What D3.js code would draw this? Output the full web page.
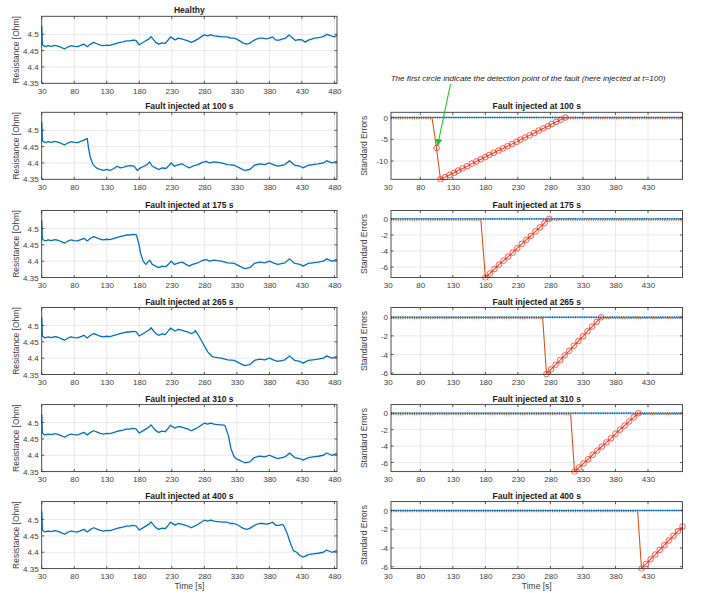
<!DOCTYPE html>
<html>
<head>
<meta charset="utf-8">
<script src="https://cdn.jsdelivr.net/npm/d3@7"></script>
<style>
  body { margin: 0; background: #fff; }
  text { font-family: "Liberation Sans", Arial, sans-serif; }
</style>
</head>
<body>
<script>
// healthy resistance trace [s], [Ohm]
const healthyT = [30, 31, 35, 40, 45, 50, 55, 60, 65, 70, 75, 80, 85, 90, 95, 100, 105, 110, 115, 120,
  125, 130, 135, 140, 145, 150, 155, 160, 165, 170, 175, 180, 185, 190, 195, 198, 205, 210, 215, 220,
  225, 228, 235, 240, 245, 250, 255, 260, 265, 270, 275, 280, 285, 290, 295, 300, 305, 310, 315, 320,
  325, 330, 335, 340, 345, 350, 355, 360, 365, 370, 375, 380, 385, 390, 395, 400, 405, 410, 415, 420,
  425, 430, 435, 440, 445, 450, 455, 460, 465, 468, 475, 480, 484];
const healthyR = [4.525, 4.468, 4.462, 4.465, 4.463, 4.466, 4.464, 4.460, 4.455, 4.461, 4.465, 4.463, 4.462, 4.466, 4.470, 4.462, 4.470, 4.475, 4.471, 4.467,
  4.465, 4.467, 4.466, 4.469, 4.472, 4.475, 4.477, 4.480, 4.480, 4.482, 4.481, 4.468, 4.474, 4.480, 4.486, 4.493, 4.476, 4.470, 4.474, 4.472,
  4.484, 4.492, 4.483, 4.488, 4.486, 4.483, 4.480, 4.475, 4.480, 4.485, 4.492, 4.498, 4.495, 4.498, 4.495, 4.494, 4.493, 4.492, 4.492, 4.488,
  4.488, 4.485, 4.479, 4.473, 4.470, 4.473, 4.480, 4.485, 4.488, 4.488, 4.486, 4.488, 4.492, 4.482, 4.482, 4.485, 4.488, 4.498, 4.490, 4.481,
  4.484, 4.483, 4.476, 4.482, 4.485, 4.488, 4.490, 4.491, 4.495, 4.500, 4.495, 4.492, 4.497];

// resistance trace once the fault is present
const faultedT = [120, 125, 130, 135, 141, 146, 151, 156, 161, 166, 172, 177, 182, 187, 192, 196, 200, 205, 210, 215,
  221, 226, 229, 234, 241, 246, 252, 257, 262, 270, 277, 283, 288, 295, 306, 316, 326, 334, 342, 350,
  357, 365, 373, 380, 386, 393, 404, 411, 419, 427, 432, 440, 447, 455, 463, 468, 476, 484];
const faultedR = [4.380, 4.377, 4.380, 4.377, 4.383, 4.390, 4.385, 4.387, 4.390, 4.392, 4.390, 4.377, 4.385, 4.390, 4.395, 4.403, 4.390, 4.385, 4.380, 4.385,
  4.383, 4.393, 4.400, 4.390, 4.395, 4.397, 4.390, 4.385, 4.390, 4.395, 4.402, 4.405, 4.400, 4.403, 4.400, 4.395, 4.393, 4.385, 4.377, 4.380,
  4.393, 4.397, 4.395, 4.400, 4.395, 4.390, 4.395, 4.407, 4.393, 4.390, 4.385, 4.393, 4.395, 4.397, 4.400, 4.407, 4.400, 4.405];

// fault cases: injection time, drop of the resistance, standard error trace
const faultTimes = [100, 175, 265, 310, 400];
const dropT = [
  [100, 102, 105, 109, 114],
  [176, 179, 182, 186, 190],
  [266, 271, 278, 285, 292],
  [312, 317, 321, 326, 330],
  [402, 407, 412, 417, 422]
];
const dropR = [
  [4.475, 4.445, 4.415, 4.395, 4.385],
  [4.478, 4.455, 4.425, 4.400, 4.390],
  [4.485, 4.470, 4.445, 4.420, 4.405],
  [4.490, 4.460, 4.420, 4.395, 4.388],
  [4.482, 4.460, 4.430, 4.405, 4.400]
];
// last sample at zero before the drop of the standard errors
const seOnset = [98, 173, 268, 311, 414];
const seT = [
  [105, 111, 118, 125, 132, 138, 145, 152, 159, 166, 173, 180, 186, 193, 200, 207, 214, 221, 228, 234, 241, 248, 255, 262, 269, 276, 282, 289, 296, 303],
  [180, 187, 194, 201, 208, 215, 222, 229, 236, 243, 250, 257, 264, 271, 278],
  [274, 281, 288, 295, 302, 309, 316, 323, 330, 337, 344, 351, 358],
  [317, 324, 331, 338, 345, 352, 359, 366, 373, 380, 387, 394, 401, 408, 415],
  [420, 427, 434, 441, 448, 455, 462, 469, 476, 483]
];
const seV = [
  [-7.0, -14.2, -13.7, -13.2, -12.7, -12.2, -11.7, -11.2, -10.6, -10.1, -9.6, -9.1, -8.6, -8.1, -7.6, -7.1, -6.6, -6.1, -5.6, -5.1, -4.6, -4.1, -3.6, -3.0, -2.5, -2.0, -1.5, -1.0, -0.5, 0],
  [-7.3, -6.8, -6.25, -5.7, -5.2, -4.7, -4.2, -3.65, -3.1, -2.6, -2.1, -1.55, -1.05, -0.5, 0],
  [-6.1, -5.6, -5.1, -4.6, -4.1, -3.6, -3.05, -2.55, -2.05, -1.5, -1.0, -0.5, 0],
  [-7.1, -6.6, -6.1, -5.6, -5.05, -4.55, -4.05, -3.55, -3.05, -2.5, -2.0, -1.5, -1.0, -0.5, 0],
  [-6.2, -5.7, -5.2, -4.7, -4.2, -3.7, -3.2, -2.7, -2.2, -1.7]
];
const seDomains = [[-14.2, 1.2], [-7.3, 1.05], [-6.15, 1.05], [-7.1, 1.05], [-6.2, 0.95]];
const seTicks = [[-10, -5, 0], [-6, -4, -2, 0], [-6, -4, -2, 0], [-6, -4, -2, 0], [-6, -4, -2, 0]];
const resTicks = [4.35, 4.4, 4.45, 4.5];
const leftXTicks = d3.range(30, 481, 50);
const rightXTicks = d3.range(30, 431, 50);

const W = 704, H = 593;
const panelTop = [16.3, 112.3, 210.5, 307.5, 404.6, 501.6];
const panelH = 67;
const blue = '#0072BD', orange = '#D95319';

const svg = d3.select('body').append('svg').attr('width', W).attr('height', H);

const leftX = d3.scaleLinear().domain([30, 484]).range([41.7, 337]);
const rightX = d3.scaleLinear().domain([35, 483]).range([391, 682.5]);

function frame(x, y, xTicks, yTicks, title, ylabel, ylabelX, showTime) {
  const g = svg.append('g');
  const [x0, x1] = x.range();
  const [y1, y0] = y.range();
  // grid
  g.selectAll('.gx').data(xTicks.filter(t => x(t) > x0 + 0.5 && x(t) < x1 - 0.5)).enter().append('line')
    .attr('x1', d => x(d)).attr('x2', d => x(d)).attr('y1', y0).attr('y2', y1)
    .attr('stroke', '#e3e3e3').attr('stroke-width', 0.8);
  g.selectAll('.gy').data(yTicks.filter(t => y(t) > y0 + 0.5 && y(t) < y1 - 0.5)).enter().append('line')
    .attr('x1', x0).attr('x2', x1).attr('y1', d => y(d)).attr('y2', d => y(d))
    .attr('stroke', '#e3e3e3').attr('stroke-width', 0.8);

  // labels via axes
  const ax = g.append('g').attr('transform', `translate(0,${y1})`)
    .call(d3.axisBottom(x).tickValues(xTicks).tickSize(0).tickPadding(5).tickFormat(d3.format('d')));
  const ay = g.append('g').attr('transform', `translate(${x0},0)`)
    .call(d3.axisLeft(y).tickValues(yTicks).tickSize(0).tickPadding(3).tickFormat(d => String(d)));
  [ax, ay].forEach(a => {
    a.select('.domain').remove();
    a.selectAll('text').attr('font-size', 8).attr('fill', '#404040')
      .style('font-family', '"Liberation Sans", Arial, sans-serif');
  });

  g.append('text').attr('x', (x0 + x1) / 2).attr('y', y0 - 3).attr('text-anchor', 'middle')
    .attr('font-size', 8.5).attr('font-weight', 'bold').attr('fill', '#1a1a1a').text(title);
  g.append('text').attr('transform', `translate(${ylabelX},${(y0 + y1) / 2}) rotate(-90)`)
    .attr('text-anchor', 'middle').attr('font-size', 8.5).attr('fill', '#404040').text(ylabel);
  if (showTime) {
    g.append('text').attr('x', (x0 + x1) / 2).attr('y', y1 + 20.5).attr('text-anchor', 'middle')
      .attr('font-size', 8.5).attr('fill', '#404040').text('Time [s]');
  }
  return g;
}

function box(x, y, xTicks, yTicks) {
  const g = svg.append('g');
  const [x0, x1] = x.range();
  const [y1, y0] = y.range();
  const tk = 2.5;
  xTicks.filter(t => x(t) >= x0 && x(t) <= x1).forEach(t => {
    g.append('line').attr('x1', x(t)).attr('x2', x(t)).attr('y1', y1).attr('y2', y1 - tk);
    g.append('line').attr('x1', x(t)).attr('x2', x(t)).attr('y1', y0).attr('y2', y0 + tk);
  });
  yTicks.filter(t => y(t) >= y0 && y(t) <= y1).forEach(t => {
    g.append('line').attr('x1', x0).attr('x2', x0 + tk).attr('y1', y(t)).attr('y2', y(t));
    g.append('line').attr('x1', x1).attr('x2', x1 - tk).attr('y1', y(t)).attr('y2', y(t));
  });
  g.selectAll('line').attr('stroke', '#333').attr('stroke-width', 0.8);
  g.append('rect').attr('x', x0).attr('y', y0).attr('width', x1 - x0).attr('height', y1 - y0)
    .attr('fill', 'none').attr('stroke', '#3a3a3a').attr('stroke-width', 0.9);
}

// resistance panels
const resLine = (x, y) => d3.line().x(d => x(d[0])).y(d => y(d[1]));
const healthy = healthyT.map((t, i) => [t, healthyR[i]]);
const faulted = faultedT.map((t, i) => [t, faultedR[i]]);

for (let p = 0; p < 6; p++) {
  const top = panelTop[p];
  const y = d3.scaleLinear().domain([4.35, 4.555]).range([top + panelH, top]);
  const title = p === 0 ? 'Healthy' : `Fault injected at ${faultTimes[p - 1]} s`;
  frame(leftX, y, leftXTicks, resTicks, title, 'Resistance [Ohm]', 18.5, p === 5);
  let pts;
  if (p === 0) {
    pts = healthy;
  } else {
    const dt = dropT[p - 1], dr = dropR[p - 1];
    const start = dt[0], end = dt[dt.length - 1];
    pts = healthy.filter(d => d[0] < start)
      .concat(dt.map((t, i) => [t, dr[i]]))
      .concat(faulted.filter(d => d[0] > end + 2));
  }
  svg.append('path').datum(pts).attr('d', resLine(leftX, y))
    .attr('fill', 'none').attr('stroke', blue).attr('stroke-width', 1.3).attr('stroke-linejoin', 'round');
  box(leftX, y, leftXTicks, resTicks);
}

// standard error panels
const [rx0, rx1] = rightX.domain();
for (let k = 0; k < 5; k++) {
  const top = panelTop[k + 1];
  const y = d3.scaleLinear().domain(seDomains[k]).range([top + panelH, top]);
  frame(rightX, y, rightXTicks, seTicks[k], `Fault injected at ${faultTimes[k]} s`, 'Standard Errors', 367, k === 4);

  const clipId = 'c' + k;
  svg.append('clipPath').attr('id', clipId).append('rect')
    .attr('x', rightX.range()[0]).attr('y', top - 3).attr('width', rightX.range()[1] - rightX.range()[0] + 4).attr('height', panelH + 6);
  const g = svg.append('g').attr('clip-path', `url(#${clipId})`);

  const ts = seT[k], vs = seV[k];
  const last = ts[ts.length - 1];
  const zeroBefore = [[rx0, 0], [seOnset[k], 0]];
  const zeroAfter = vs[vs.length - 1] === 0 ? [[last, 0], [rx1, 0]] : [];
  const line = d3.line().x(d => rightX(d[0])).y(d => y(d[1]));

  // blue trace at zero
  g.append('path').datum([[rx0, 0], [rx1, 0]]).attr('d', line)
    .attr('stroke', blue).attr('stroke-width', 0.8).attr('fill', 'none');
  g.append('path').datum([[rx0, 0], [rx1, 0]]).attr('d', line)
    .attr('stroke', blue).attr('stroke-width', 1.8).attr('stroke-dasharray', '1,1.3').attr('fill', 'none');

  // orange trace at zero (dotted look), slightly below
  [zeroBefore, zeroAfter].forEach(seg => {
    if (!seg.length) return;
    g.append('path').datum(seg).attr('d', line).attr('transform', 'translate(0,1)')
      .attr('stroke', orange).attr('stroke-width', 1.5).attr('stroke-dasharray', '1,1.3').attr('fill', 'none');
  });

  // drop and recovery
  const det = [[seOnset[k], 0]].concat(ts.map((t, i) => [t, vs[i]]));
  g.append('path').datum(det).attr('d', line)
    .attr('stroke', orange).attr('stroke-width', 1.1).attr('fill', 'none');
  g.selectAll('.m').data(ts.map((t, i) => [t, vs[i]])).enter().append('circle')
    .attr('cx', d => rightX(d[0])).attr('cy', d => y(d[1])).attr('r', 2.8)
    .attr('fill', 'none').attr('stroke', '#ff2020').attr('stroke-width', 0.75);

  box(rightX, y, rightXTicks, seTicks[k]);
}

// annotation
svg.append('text').attr('x', 528).attr('y', 81).attr('text-anchor', 'middle')
  .attr('font-size', 8.1).attr('font-style', 'italic').attr('fill', '#1a1a1a')
  .text('The first circle indicate the detection point of the fault (here injected at t=100)');
svg.append('defs').append('marker').attr('id', 'arr').attr('viewBox', '0 0 10 10')
  .attr('refX', 10).attr('refY', 5).attr('markerWidth', 7).attr('markerHeight', 7)
  .attr('markerUnits', 'userSpaceOnUse').attr('orient', 'auto')
  .append('path').attr('d', 'M0,0 L10,5 L0,10 Z').attr('fill', '#22c222');
svg.append('line').attr('x1', 450.5).attr('y1', 84).attr('x2', 437.5).attr('y2', 146)
  .attr('stroke', '#22c222').attr('stroke-width', 1.1).attr('marker-end', 'url(#arr)');
</script>
</body>
</html>
